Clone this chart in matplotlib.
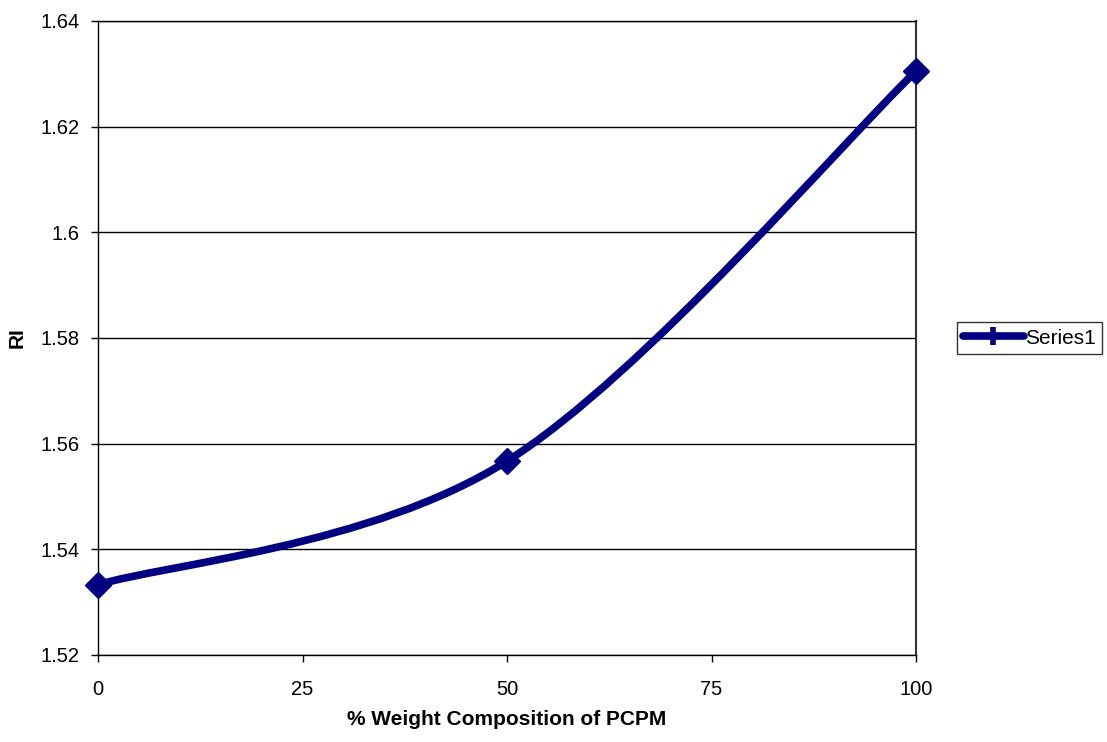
import numpy as np
import matplotlib
matplotlib.use("Agg")
import matplotlib.pyplot as plt
from matplotlib.path import Path
from matplotlib.patches import PathPatch
from matplotlib.lines import Line2D

plt.rcParams['font.family'] = ['Liberation Sans', 'DejaVu Sans']

# RI against weight composition of PCPM
composition = [0, 50, 100]
ri = [1.5333, 1.5567, 1.6305]
series_name = "Series1"

x_ticks = [0, 25, 50, 75, 100]
y_ticks = [1.52, 1.54, 1.56, 1.58, 1.60, 1.62, 1.64]
y_tick_labels = ["1.52", "1.54", "1.56", "1.58", "1.6", "1.62", "1.64"]

NAVY = "#000080"


def smooth_path(xs, ys):
    # Catmull-Rom style Bezier through the points (ends duplicated)
    pts = np.column_stack([xs, ys]).astype(float)
    padded = np.vstack([pts[0], pts, pts[-1]])
    verts = [pts[0]]
    codes = [Path.MOVETO]
    for i in range(1, len(padded) - 2):
        p0, p1, p2, p3 = padded[i - 1], padded[i], padded[i + 1], padded[i + 2]
        c1 = p1 + (p2 - p0) / 6.0
        c2 = p2 - (p3 - p1) / 6.0
        verts += [c1, c2, p2]
        codes += [Path.CURVE4] * 3
    return Path(verts, codes)


fig = plt.figure(figsize=(11.07, 7.42), dpi=100)
ax = fig.add_axes([98 / 1107, 1 - 655 / 742, (916 - 98) / 1107, (655 - 21) / 742])

ax.set_xlim(0, 100)
ax.set_ylim(1.52, 1.64)

for yv in y_ticks:
    ax.axhline(yv, color="black", lw=1.0, zorder=1)

curve = PathPatch(smooth_path(composition, ri), facecolor="none", edgecolor=NAVY,
                  lw=5.5, capstyle="round", joinstyle="round", zorder=3, clip_on=False)
ax.add_patch(curve)
ax.plot(composition, ri, linestyle="none", marker="D", ms=13, color=NAVY,
        mec=NAVY, zorder=4, clip_on=False)

ax.set_xticks(x_ticks)
ax.set_xticklabels([str(v) for v in x_ticks])
ax.set_yticks(y_ticks)
ax.set_yticklabels(y_tick_labels)
ax.tick_params(axis="both", direction="out", length=5, width=1, color="black",
               labelsize=14.5, pad=8)
ax.tick_params(axis="x", pad=13)

for side in ["left", "bottom", "top"]:
    ax.spines[side].set_color("black")
    ax.spines[side].set_linewidth(1.0)
ax.spines["right"].set_color("#333333")
ax.spines["right"].set_linewidth(1.5)

ax.set_xlabel("% Weight Composition of PCPM", fontsize=15, fontweight="bold")
ax.xaxis.set_label_coords(0.5, -0.087)
ax.set_ylabel("RI", fontsize=15, fontweight="bold")
ax.yaxis.set_label_coords(-0.087, 0.5)

handle = Line2D([], [], color=NAVY, lw=5.5, marker="|", ms=13, mew=4,
                solid_capstyle="round")
leg = fig.legend([handle], [series_name], loc="center left",
                 bbox_to_anchor=(957 / 1107, 1 - 338 / 742), fontsize=15,
                 frameon=True, fancybox=False, handlelength=2.9,
                 handletextpad=0.05, borderpad=0.3, borderaxespad=0)
leg.get_frame().set_edgecolor("black")
leg.get_frame().set_linewidth(1.0)

fig.savefig("out.png", dpi=100)
